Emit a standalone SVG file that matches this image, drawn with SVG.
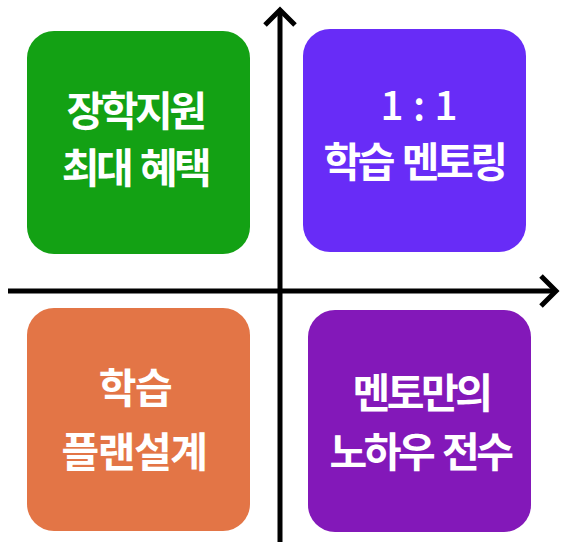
<svg xmlns="http://www.w3.org/2000/svg" width="563" height="542" viewBox="0 0 563 542">
<style>
.box{stroke:none}
.t{font-family:"Noto Sans CJK KR","Noto Sans",sans-serif;font-weight:700;font-size:41px;fill:#ffffff;text-anchor:middle;letter-spacing:-3.5px;word-spacing:4px}
.ax{stroke:#000;stroke-width:5;fill:none;stroke-linecap:butt;stroke-linejoin:miter}
</style>
<rect width="563" height="542" fill="#ffffff"/>
<g id="connectors">
<line class="ax" x1="280" y1="12" x2="280" y2="542"/>
<polyline class="ax" points="265,25 280,10 295,25"/>
<line class="ax" x1="8" y1="291" x2="554" y2="291"/>
<polyline class="ax" points="541,276 556,291 541,306"/>
</g>
<g id="node-scholarship">
<rect class="box" x="27" y="31" width="223" height="223" rx="27" fill="#13A114"/>
<text class="t" x="135" y="126">장학지원</text>
<text class="t" x="135" y="183">최대 혜택</text>
</g>
<g id="node-mentoring">
<rect class="box" x="303" y="29" width="223" height="223" rx="27" fill="#682CF7"/>
<text class="t" x="419" y="120" style="font-weight:500;letter-spacing:0;word-spacing:0">1 : 1</text>
<text class="t" x="414" y="177">학습 멘토링</text>
</g>
<g id="node-plan">
<rect class="box" x="27" y="308" width="223" height="223" rx="27" fill="#E37546"/>
<text class="t" x="135" y="403" style="letter-spacing:-1.5px">학습</text>
<text class="t" x="134" y="467" style="letter-spacing:-1.5px">플랜설계</text>
</g>
<g id="node-knowhow">
<rect class="box" x="308" y="310" width="223" height="222" rx="27" fill="#8318B9"/>
<text class="t" x="421" y="408">멘토만의</text>
<text class="t" x="420" y="467">노하우 전수</text>
</g>
</svg>
